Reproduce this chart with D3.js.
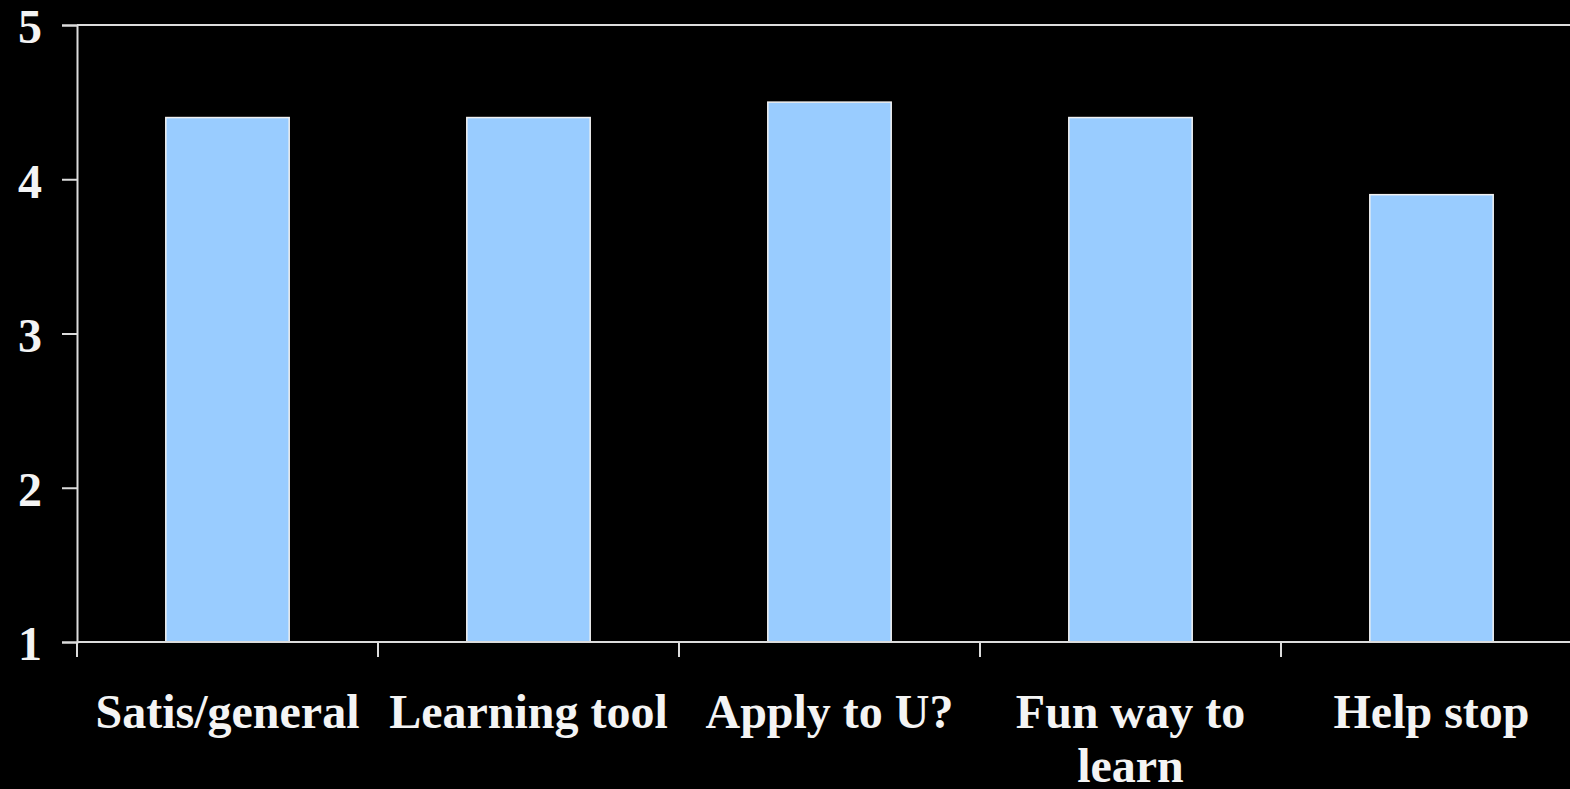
<!DOCTYPE html>
<html>
<head>
<meta charset="utf-8">
<script src="https://cdn.jsdelivr.net/npm/d3@7"></script>
<style>
  html, body { margin: 0; padding: 0; background: #000; overflow: hidden; }
  svg { display: block; }
  text { font-family: "Liberation Serif", "Times New Roman", serif; font-weight: bold; fill: #f4f4f4; }
</style>
</head>
<body>
<svg id="chart" width="1570" height="789"></svg>
<script>
const categories = ["Satis/general", "Learning tool", "Apply to U?", "Fun way to learn", "Help stop"];
const values = [4.4, 4.4, 4.5, 4.4, 3.9];
const yTicks = [1, 2, 3, 4, 5];

const W = 1570, H = 789;
const margin = { left: 77, top: 25, bottom: 147 };
const plotRight = 77 + 5 * 301;

const svg = d3.select("#chart");
svg.append("rect").attr("width", W).attr("height", H).attr("fill", "#000");

const x = d3.scaleBand().domain(categories).range([margin.left, plotRight]).paddingInner(0.59).paddingOuter(0.295);
const xb = d3.scaleBand().domain(categories).range([margin.left, plotRight]);
const y = d3.scaleLinear().domain([1, 5]).range([H - margin.bottom, margin.top]);

const lineColor = "#dcdcdc";

// top border
svg.append("line")
  .attr("x1", margin.left).attr("x2", plotRight)
  .attr("y1", y(5)).attr("y2", y(5))
  .attr("stroke", lineColor).attr("stroke-width", 2);

// bars
svg.selectAll("rect.bar").data(values).enter().append("rect")
  .attr("class", "bar")
  .attr("x", (d, i) => x(categories[i]))
  .attr("width", x.bandwidth())
  .attr("y", d => y(d))
  .attr("height", d => y(1) - y(d))
  .attr("fill", "#99ccff")
  .attr("stroke", "#f0f0f0")
  .attr("stroke-width", 1.5);

// y axis
const yAxis = d3.axisLeft(y).tickValues(yTicks).tickFormat(d3.format("d")).tickSize(15).tickPadding(20);
const gy = svg.append("g").attr("transform", `translate(${margin.left},0)`).call(yAxis);
gy.select(".domain").attr("stroke", lineColor).attr("stroke-width", 2);
gy.selectAll(".tick line").attr("stroke", lineColor).attr("stroke-width", 2);
gy.selectAll(".tick text").attr("font-size", 48).attr("fill", "#f4f4f4")
  .attr("font-family", "Liberation Serif, Times New Roman, serif").attr("font-weight", "bold")
  .attr("dy", "0.37em");

// x axis (ticks at band boundaries)
const boundaries = categories.map(c => xb(c));
svg.append("line")
  .attr("x1", margin.left).attr("x2", plotRight)
  .attr("y1", y(1)).attr("y2", y(1))
  .attr("stroke", lineColor).attr("stroke-width", 2);
svg.selectAll("line.xtick").data(boundaries).enter().append("line")
  .attr("class", "xtick")
  .attr("x1", d => d).attr("x2", d => d)
  .attr("y1", y(1)).attr("y2", y(1) + 15)
  .attr("stroke", lineColor).attr("stroke-width", 2);

// x labels with wrapping
const labels = svg.selectAll("text.xlabel").data(categories).enter().append("text")
  .attr("class", "xlabel")
  .attr("x", d => xb(d) + xb.bandwidth() / 2)
  .attr("y", y(1) + 86)
  .attr("text-anchor", "middle")
  .attr("font-size", 48);

labels.each(function(d) {
  const t = d3.select(this);
  const words = d.split(" ");
  const maxW = xb.bandwidth() - 10;
  let line = [];
  let tspan = t.append("tspan").attr("x", t.attr("x")).attr("dy", 0);
  for (const w of words) {
    line.push(w);
    tspan.text(line.join(" "));
    if (tspan.node().getComputedTextLength() > maxW && line.length > 1) {
      line.pop();
      tspan.text(line.join(" "));
      line = [w];
      tspan = t.append("tspan").attr("x", t.attr("x")).attr("dy", 54).text(w);
    }
  }
});
</script>
</body>
</html>
